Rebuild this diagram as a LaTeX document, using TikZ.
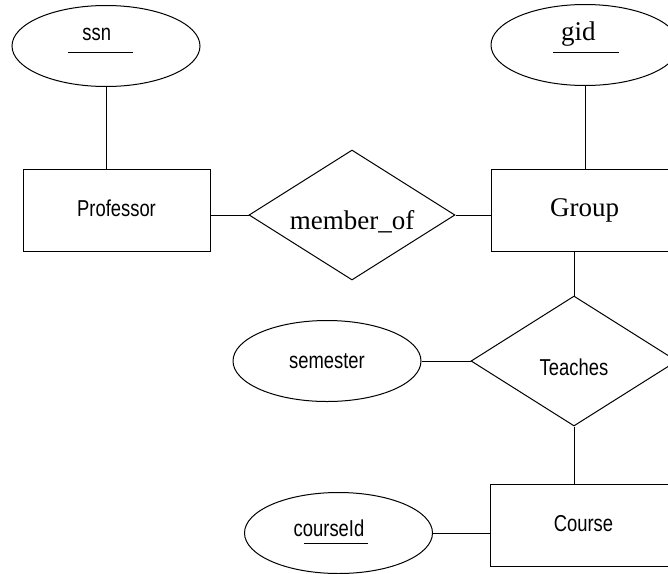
\documentclass[tikz,border=0pt]{standalone}
\usepackage{fontspec}
\setmainfont{Liberation Serif}
\newfontfamily\narrowsf[FakeStretch=0.8]{Liberation Sans}
\usetikzlibrary{shapes.geometric}

\begin{document}
\begin{tikzpicture}[
    x=1pt,
    y=-1pt,
    line width=1pt,
    entity/.style={
        rectangle,
        draw,
        minimum width=187pt,
        minimum height=82pt,
        inner sep=0pt,
        text height=13pt,
        text depth=0pt
    },
    attribute/.style={
        ellipse,
        draw,
        minimum width=188pt,
        minimum height=81pt,
        inner sep=0pt,
        text height=14pt,
        text depth=0pt
    },
    relation/.style={
        diamond,
        draw,
        aspect=1.6,
        minimum width=206pt,
        minimum height=130pt,
        inner sep=0pt,
        text height=29pt,
        text depth=0pt
    },
    sanstext/.style={
        font=\narrowsf\fontsize{23}{27}\selectfont
    },
    seriftext/.style={
        font=\fontsize{27}{31}\selectfont
    },
    link/.style={
        draw,
        line width=1pt
    }
]

\path[use as bounding box, clip] (0,0) rectangle (668,573);

% Entita
\node[entity, sanstext] (professor) at (116.5,210) {Professor};
\node[entity, seriftext] (group) at (584.5,210) {Group};
\node[entity, sanstext] (course) at (583.5,525) {Course};

% Relazioni
\node[relation, seriftext] (memberof) at (352,215) {member\_of};
\node[relation, sanstext] (teaches) at (574,361) {Teaches};

% Attributi
\node[attribute] (ssn) at (106,46) {};
\node[sanstext, anchor=base, inner sep=0pt] (ssnname) at (96.7,40) {ssn};
\draw (ssnname.base) ++(-28.7,12.7) -- ++(65,0);

\node[attribute] (gid) at (585,45) {};
\node[seriftext, anchor=base, inner sep=0pt] (gidname) at (578.4,40) {gid};
\draw (gidname.base) ++(-25.4,12.7) -- ++(66,0);

\node[attribute, sanstext] (semester) at (327,361) {semester};

\node[attribute] (courseid) at (338.5,533) {};
\node[sanstext, anchor=base, inner sep=0pt] (courseidname) at (329,536) {courseId};
\draw (courseidname.base) ++(-25,7) -- ++(64,0);

% Collegamenti
\draw[link] (ssn.south) -- (ssn.south |- professor.north);
\draw[link] (gid.south) -- (gid.south |- group.north);
\draw[link] (professor.east |- memberof.west) -- (memberof.west);
\draw[link] (memberof.east) -- (memberof.east -| group.west);
\draw[link] (teaches.north |- group.south) -- (teaches.north);
\draw[link] (semester) -- (teaches);
\draw[link] (teaches.south) -- (teaches.south |- course.north);
\draw[link] (courseid.east) -- (courseid.east -| course.west);

\end{tikzpicture}
\end{document}
